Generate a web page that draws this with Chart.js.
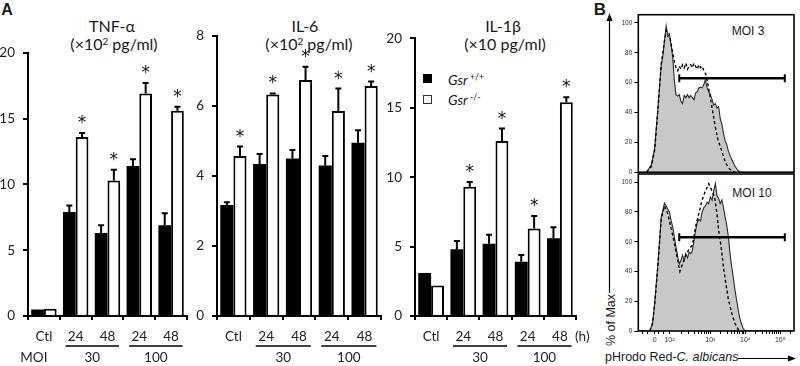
<!DOCTYPE html>
<html><head><meta charset="utf-8">
<script src="https://cdn.jsdelivr.net/npm/chart.js@4.4.1/dist/chart.umd.min.js"></script>
<style>
html,body{margin:0;padding:0;background:#fff}
body{width:800px;height:366px;overflow:hidden;position:relative;font-family:Lato,sans-serif;color:#1a1a1a}
canvas{position:absolute}
.t{position:absolute;white-space:nowrap;transform:translate(-50%,-50%);line-height:1}
.tl{position:absolute;white-space:nowrap;transform:translate(0,-50%);line-height:1}
.sp{font-size:0.62em;position:relative;top:-0.55em}
.ar{font-family:"Liberation Sans",Arial,sans-serif}
svg{position:absolute;left:0;top:0}
</style></head><body>

<div class="t ar" style="left:7px;top:10px;font-size:16px;font-weight:bold">A</div>
<div class="t ar" style="left:600px;top:9px;font-size:17px;font-weight:bold">B</div>

<div class="t" style="left:112px;top:26px;font-size:16px">TNF-α</div>
<div class="t" style="left:114px;top:44px;font-size:16px">(×10<span class="sp">2</span> pg/ml)</div>
<div class="t" style="left:305px;top:26px;font-size:16px">IL-6</div>
<div class="t" style="left:309px;top:44px;font-size:16px">(×10<span class="sp">2</span> pg/ml)</div>
<div class="t" style="left:503px;top:26px;font-size:16px">IL-1β</div>
<div class="t" style="left:505px;top:44px;font-size:16px">(×10 pg/ml)</div>

<div style="position:absolute;left:423px;top:74px;width:9px;height:9px;background:#000"></div>
<div style="position:absolute;left:423px;top:95px;width:7px;height:7px;border:1px solid #333;background:#fff"></div>
<div class="tl" style="left:448px;top:80px;font-size:14px"><i>Gsr</i><span class="sp"> +/+</span></div>
<div class="tl" style="left:448px;top:100px;font-size:14px"><i>Gsr</i><span class="sp"> -/-</span></div>

<div class="t ar" style="left:748px;top:31px;font-size:12px">MOI 3</div>
<div class="t ar" style="left:752px;top:193px;font-size:12px">MOI 10</div>
<div class="t ar" style="left:611px;top:320px;font-size:12.5px;transform:translate(-50%,-50%) rotate(-90deg)">% of Max</div>
<div class="tl ar" style="left:605px;top:357px;font-size:12.5px">pHrodo Red-<i>C. albicans</i></div>

<svg width="800" height="366">
  <line x1="609.5" y1="293" x2="609.5" y2="20" stroke="#000" stroke-width="1.2"/>
  <polygon points="606.5,21 612.5,21 609.5,13" fill="#000"/>
  <line x1="738" y1="358.5" x2="789" y2="358.5" stroke="#000" stroke-width="1.2"/>
  <polygon points="788,355.5 788,361.5 796,358.5" fill="#000"/>
</svg>

<script>
// ---------- data ----------
const categories = ['Ctl', '24', '48', '24', '48'];
const moiGroups = ['30', '100'];

const tnfWT    = [0.5, 7.9, 6.3, 11.4, 6.9];
const tnfWTerr = [0, 0.5, 0.6, 0.5, 0.9];
const tnfKO    = [0.55, 13.6, 10.3, 16.9, 15.6];
const tnfKOerr = [0, 0.3, 0.8, 0.8, 0.3];
const tnfStar  = [false, true, true, true, true];

const il6WT    = [3.17, 4.34, 4.5, 4.3, 4.95];
const il6WTerr = [0.08, 0.29, 0.24, 0.27, 0.36];
const il6KO    = [4.57, 6.33, 6.74, 5.86, 6.57];
const il6KOerr = [0.27, 0.03, 0.38, 0.64, 0.13];
const il6Star  = [true, true, true, true, true];

const il1WT    = [3.1, 4.8, 5.2, 3.9, 5.6];
const il1WTerr = [0, 0.6, 0.65, 0.5, 0.8];
const il1KO    = [2.2, 9.3, 12.6, 6.3, 15.4];
const il1KOerr = [0, 0.35, 0.9, 0.9, 0.35];
const il1Star  = [false, true, true, true, true];

// flow histograms (x in display channel units 0-1000, y in % of max)
const flowTickValues = [105, 200, 463, 688, 912];
const flowTickLabels = ['0', '10²', '10³', '10⁴', '10⁵'];

const moi3FilledX = [0,53,84,105,126,147,158,168,179,189,200,211,221,232,242,253,263,274,284,295,305,316,326,337,347,358,368,379,389,400,410,421,431,442,452,463,474,484,495,505,516,526,537,547,558,568,579,600,621,642,663,1000];
const moi3FilledY = [0,0,5,16,43,72,78,88,98,91,92,85,77,61,52,51,52,47.5,46,51.5,50,52,50,51.5,50,48.6,53,54,56.5,57,56.5,58.7,62,56.5,54,52,48.7,45,46,43,44,36,32,26,21,18.5,14,8.5,4,1,0,0];
const moi3DashedX = [53,84,105,126,147,168,179,196,211,221,232,242,253,263,274,284,295,305,316,326,337,347,358,368,379,389,400,410,421,436,452,474,495,511,537,558,579,600,621];
const moi3DashedY = [0,4,15,42,72,88,95,94,86,80,74,70,68,71,69,72,70,73,69,71,72,70,73,71,69,72,70,71,68,65,56,43,30,22,14,7,3,1,0];

const moi10FilledX = [0,74,91,105,126,147,158,168,179,189,200,211,221,232,242,253,263,274,284,295,305,316,326,337,347,358,368,379,389,400,410,421,431,442,452,463,474,484,495,505,516,526,537,547,558,568,579,589,600,610,621,631,642,652,663,673,688,1000];
const moi10FilledY = [0,0,5,18.5,45,76.5,81,86,84,82,80,74,70,63,56.5,50,45,47.5,51,47.5,52,49,53,52,54,61,67.6,73,75,74,80,83,84,86.6,85.5,90,88,94,99,91,89,85.5,88,83,76.5,71,63,52,43,36,27.5,21,14,8.5,4.7,1.8,0,0];
const moi10DashedX = [74,91,105,126,147,168,189,211,232,253,267,284,305,326,347,368,389,410,431,452,474,490,505,516,532,547,562,579,600,621,642,652];
const moi10DashedY = [0,5,18,44,75,84,79,69,59,47.5,40,45,51,55,57.6,70,79,88,94,99,94,90,79,67.6,56.5,43,32,21,12,5,1,0];

const gateX = [263, 941];
const gateLevel = 63;

// ---------- setup ----------
Chart.defaults.font.family = 'Lato, sans-serif';
Chart.defaults.color = '#222';
Chart.defaults.animation = false;
Chart.defaults.plugins.legend.display = false;
Chart.defaults.plugins.tooltip.enabled = false;

function makeCanvas(left, top, w, h) {
  const c = document.createElement('canvas');
  c.width = w; c.height = h;
  c.style.left = left + 'px'; c.style.top = top + 'px';
  c.style.width = w + 'px'; c.style.height = h + 'px';
  document.body.appendChild(c);
  return c;
}

const errorBarPlugin = {
  id: 'errorBars',
  afterDatasetsDraw(chart) {
    const ctx = chart.ctx, ys = chart.scales.y;
    ctx.save();
    chart.data.datasets.forEach((ds, di) => {
      const meta = chart.getDatasetMeta(di);
      meta.data.forEach((bar, i) => {
        const e = ds.errors[i];
        const top = ys.getPixelForValue(ds.data[i] + e);
        if (e > 0) {
          ctx.strokeStyle = '#000'; ctx.lineWidth = 2;
          ctx.beginPath();
          ctx.moveTo(bar.x, bar.y); ctx.lineTo(bar.x, top);
          ctx.moveTo(bar.x - 3, top); ctx.lineTo(bar.x + 3, top);
          ctx.stroke();
        }
        if (ds.stars && ds.stars[i]) {
          ctx.font = '17px "DejaVu Sans"';
          ctx.fillStyle = '#111'; ctx.textAlign = 'center'; ctx.textBaseline = 'alphabetic';
          const m = ctx.measureText('*');
          const c = top - 13.5;
          ctx.fillText('*', bar.x, c + (m.actualBoundingBoxAscent - m.actualBoundingBoxDescent) / 2);
        }
      });
    });
    ctx.restore();
  }
};

const groupPlugin = {
  id: 'groups',
  afterDraw(chart, args, o) {
    const ctx = chart.ctx, xs = chart.scales.x;
    const w = xs.width / categories.length;
    ctx.save();
    ctx.strokeStyle = '#000'; ctx.lineWidth = 1.3;
    ctx.fillStyle = '#222'; ctx.font = '13.5px Lato';
    ctx.textAlign = 'center'; ctx.textBaseline = 'middle';
    moiGroups.forEach((g, gi) => {
      const i1 = 1 + gi * 2, i2 = i1 + 1;
      const x1 = xs.getPixelForValue(i1) - 0.32 * w;
      const x2 = xs.getPixelForValue(i2) + 0.36 * w;
      ctx.beginPath(); ctx.moveTo(x1, o.lineY); ctx.lineTo(x2, o.lineY); ctx.stroke();
      ctx.fillText(g, (x1 + x2) / 2, o.groupY);
    });
    if (o.moi) ctx.fillText('MOI', xs.getPixelForValue(0) - 10, o.groupY);
    if (o.unit) { ctx.textAlign = 'left'; ctx.fillText('(h)', xs.right - 1, o.labelY); }
    ctx.restore();
  }
};

function barPanel(p, wt, wtErr, ko, koErr, stars) {
  const yW = 30, padR = p.padR || 4;
  const left = p.axisX - yW;
  const w = (p.right - p.axisX) + yW + padR;
  const c = makeCanvas(left, 0, w, 366);
  new Chart(c, {
    type: 'bar',
    data: {
      labels: categories,
      datasets: [
        { data: wt, errors: wtErr, backgroundColor: '#000', borderColor: '#000', borderWidth: 0,
          categoryPercentage: 0.8, barPercentage: 1.0 },
        { data: ko, errors: koErr, stars: stars, backgroundColor: '#fff', borderColor: '#000', borderWidth: 2,
          categoryPercentage: 0.8, barPercentage: 1.0 }
      ]
    },
    options: {
      responsive: false, devicePixelRatio: 1,
      layout: { padding: { top: p.top, right: padR, left: 0, bottom: 0 } },
      scales: {
        x: {
          grid: { display: true, drawOnChartArea: false, offset: true, tickLength: 4, color: '#000', lineWidth: 2 },
          border: { color: '#000', width: 2 },
          ticks: { font: { size: 13.5 }, color: '#222', padding: 9, maxRotation: 0, autoSkip: false },
          afterFit: s => { s.height = 50; }
        },
        y: {
          min: 0, max: p.max,
          grid: { display: true, drawOnChartArea: false, tickLength: 5, color: '#000', lineWidth: 2 },
          border: { color: '#000', width: 2 },
          ticks: { stepSize: p.step, font: { size: 13.5 }, color: '#222', padding: 8 },
          afterFit: s => { s.width = yW; }
        }
      },
      plugins: { groups: { lineY: 346, groupY: 358, labelY: 337, moi: !!p.moi, unit: !!p.unit } }
    },
    plugins: [errorBarPlugin, groupPlugin]
  });
}

barPanel({ axisX: 28, right: 187, top: 52.7, max: 20, step: 5, moi: true }, tnfWT, tnfWTerr, tnfKO, tnfKOerr, tnfStar);
barPanel({ axisX: 217, right: 381, top: 36, max: 8, step: 2 }, il6WT, il6WTerr, il6KO, il6KOerr, il6Star);
barPanel({ axisX: 415, right: 576, top: 38.3, max: 20, step: 5, unit: true, padR: 20 }, il1WT, il1WTerr, il1KO, il1KOerr, il1Star);

// ---------- flow histograms ----------
const framePlugin = {
  id: 'frame',
  afterDraw(chart) {
    const ctx = chart.ctx, a = chart.chartArea;
    ctx.save(); ctx.strokeStyle = '#000'; ctx.lineWidth = 1.6;
    ctx.strokeRect(a.left, a.top, a.right - a.left, a.bottom - a.top);
    ctx.restore();
  }
};

function minorFlowTicks() {
  const t = [30, 60, 130, 160];
  const decades = [[200, 263], [463, 225], [688, 224], [912, 224]];
  decades.forEach(([s, wd]) => { for (let k = 2; k <= 9; k++) { const v = s + wd * Math.log10(k); if (v < 1000) t.push(v); } });
  return t;
}

function pts(xs, ys) { return xs.map((x, i) => ({ x: x, y: ys[i] })); }

function flowPanel(top, h, padTop, xAxisH, filledX, filledY, dashedX, dashedY, showX) {
  const c = makeCanvas(560, top, 240, h);
  new Chart(c, {
    type: 'line',
    data: {
      datasets: [
        { data: pts(filledX, filledY), borderColor: '#2a2a2a', borderWidth: 1.1, backgroundColor: '#c8c8c8',
          fill: 'origin', pointRadius: 0, tension: 0, order: 3 },
        { data: pts(dashedX, dashedY), borderColor: '#000', borderWidth: 1.4, borderDash: [3, 2.5],
          fill: false, pointRadius: 0, tension: 0, order: 2 },
        { data: pts(gateX, [gateLevel, gateLevel]), borderColor: '#000', borderWidth: 2.4, fill: false,
          pointStyle: 'line', rotation: 90, pointRadius: 4, pointBorderWidth: 2, pointBorderColor: '#000', order: 1 }
      ]
    },
    options: {
      responsive: false, devicePixelRatio: 1,
      layout: { padding: { top: padTop, right: 3.3, left: 0, bottom: 0 } },
      scales: {
        x: {
          type: 'linear', min: 0, max: 1000, display: showX,
          grid: { display: true, drawOnChartArea: false, tickLength: 3, color: '#000', lineWidth: 1 },
          border: { display: false },
          afterBuildTicks: s => { s.ticks = flowTickValues.concat(minorFlowTicks()).sort((a, b) => a - b).map(v => ({ value: v })); },
          ticks: { autoSkip: false, maxRotation: 0, padding: 2, color: '#333',
            font: { size: 7, family: '"Liberation Sans", Arial, sans-serif' },
            callback: v => { const i = flowTickValues.indexOf(v); return i >= 0 ? flowTickLabels[i] : ''; } },
          afterFit: s => { s.height = xAxisH; }
        },
        y: {
          min: 0, max: 105.5,
          grid: { display: true, drawOnChartArea: false, tickLength: 4, color: '#000', lineWidth: 1 },
          border: { display: false },
          afterBuildTicks: s => { s.ticks = [0, 20, 40, 60, 80, 100].map(v => ({ value: v })); },
          ticks: { padding: 2, color: '#333', font: { size: 6.5, family: '"Liberation Sans", Arial, sans-serif' } },
          afterFit: s => { s.width = 78.3; }
        }
      }
    },
    plugins: [framePlugin]
  });
}

flowPanel(0, 180, 14.7, 7.7, moi3FilledX, moi3FilledY, moi3DashedX, moi3DashedY, false);
flowPanel(166, 200, 8, 35, moi10FilledX, moi10FilledY, moi10DashedX, moi10DashedY, true);
</script>
</body></html>
